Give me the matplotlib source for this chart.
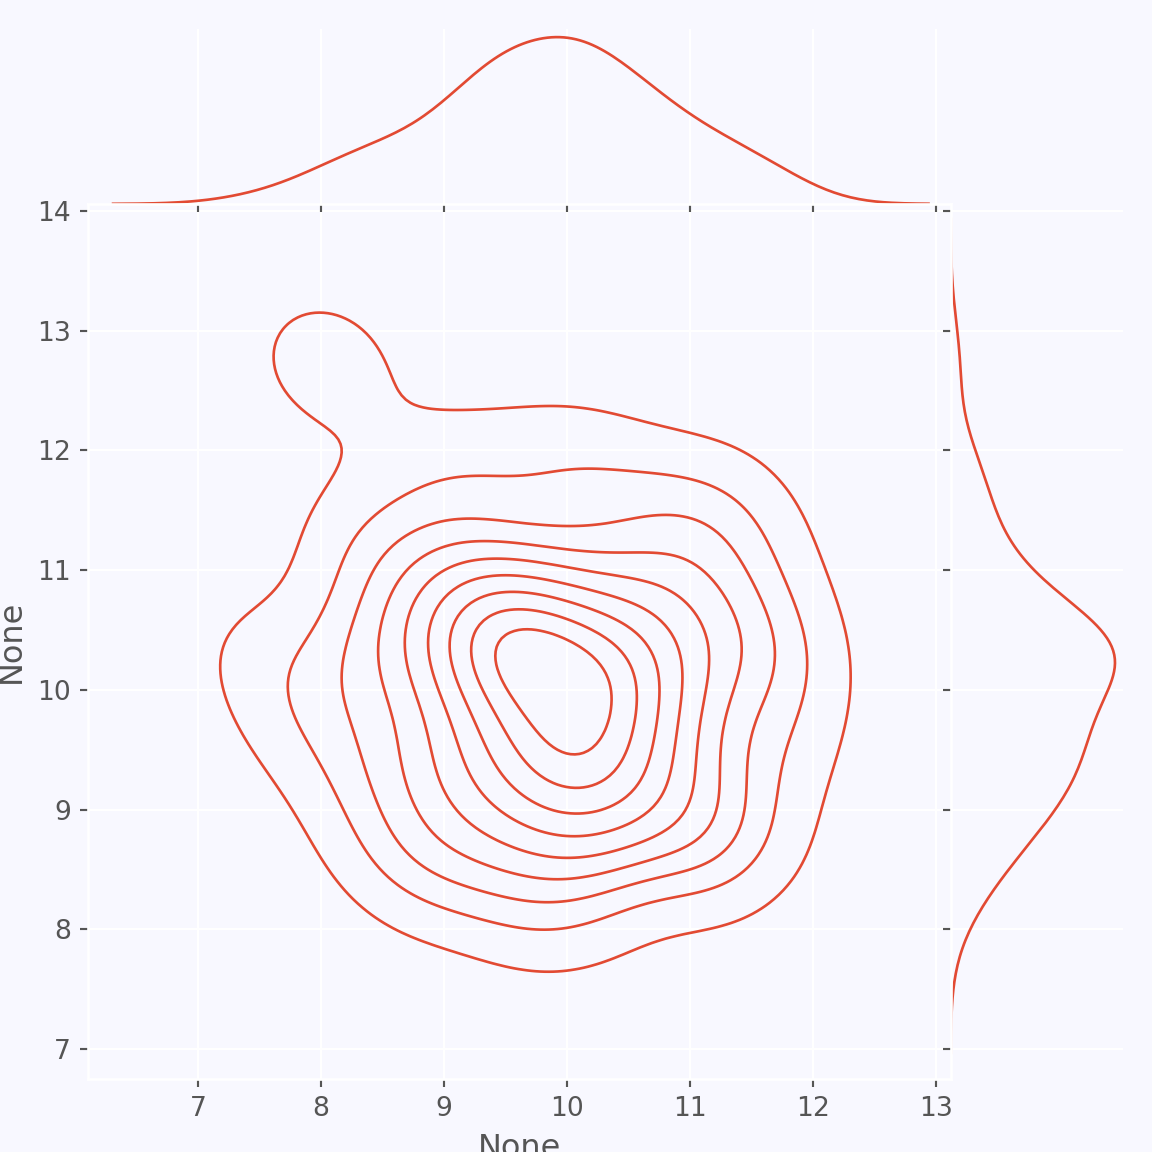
import matplotlib
matplotlib.use("Agg")
import matplotlib.pyplot as plt
import numpy as np
import seaborn as sns

# hand-placed sample points (estimated from the density picture),
# one line per narrow x band
x_vals = [7.45,
          7.8,
          7.95, 8.15, 8.05,
          8.3, 8.25, 8.3,
          8.5, 8.55, 8.45, 8.6,
          8.9, 8.8, 8.7, 8.8, 8.75,
          9.0, 9.05, 9.35, 9.0, 9.6,
          9.25, 9.2, 9.3, 9.25, 9.2, 9.3, 9.25, 9.35,
          9.5, 9.45, 9.55, 9.5, 9.3, 9.4, 9.5, 9.5, 9.45, 9.4,
          9.7, 10.1, 9.8, 9.7, 9.75, 10.05, 10.3, 9.75, 9.8, 9.7, 9.75, 9.9,
          10.0, 10.05, 9.95, 10.0, 10.05, 9.9, 10.0, 10.05, 9.95, 10.0, 10.05,
          10.2, 10.2, 10.3, 10.25, 10.2, 10.3, 10.25, 10.3,
          10.5, 10.55, 10.45, 10.5, 10.55, 10.5, 10.5, 10.6, 10.45,
          10.75, 10.8, 10.7, 10.75, 10.8, 10.8,
          11.0, 11.05, 10.95, 11.0, 11.05,
          11.25, 11.2, 11.3, 11.35,
          11.5, 11.45, 11.55,
          11.7, 11.75,
          11.8]
y_vals = [10.3,
          9.7,
          12.8, 12.65, 10.0,
          11.3, 9.2, 10.4,
          8.7, 10.2, 10.9, 9.4,
          11.8, 8.5, 10.3, 11.2, 9.6,
          8.5, 9.2, 10.35, 10.7, 10.45,
          9.25, 9.0, 9.7, 10.3, 10.55, 10.8, 11.1, 11.85,
          8.4, 8.95, 9.4, 9.7, 10.2, 10.25, 10.4, 10.55, 10.3, 9.85,
          8.1, 9.35, 9.2, 9.55, 9.85, 9.55, 9.85, 10.3, 10.4, 10.5, 10.75, 11.9,
          8.9, 9.1, 9.3, 9.5, 9.75, 8.75, 10.1, 10.25, 10.4, 10.6, 11.2,
          8.2, 8.7, 9.15, 9.5, 9.9, 10.15, 10.35, 11.85,
          9.25, 9.0, 9.6, 10.0, 10.3, 10.9, 10.55, 10.2, 9.8,
          9.0, 9.35, 9.9, 10.4, 10.95, 11.6,
          8.5, 9.0, 10.2, 10.8, 11.3,
          8.7, 9.6, 10.5, 11.6,
          8.9, 10.3, 11.1,
          9.5, 10.5,
          10.0]

x = np.array(x_vals)
y = np.array(y_vals)

bg = "#F8F8FF"
grey = "#555555"
red = "#E24A33"

plt.rcParams.update({
    "figure.facecolor": bg,
    "axes.facecolor": bg,
    "savefig.facecolor": bg,
    "axes.edgecolor": "white",
    "axes.linewidth": 1.0,
    "axes.grid": True,
    "grid.color": "white",
    "grid.linewidth": 0.8,
    "axes.labelcolor": grey,
    "axes.labelsize": 12,
    "text.color": grey,
    "xtick.color": grey,
    "ytick.color": grey,
    "xtick.labelsize": 10,
    "ytick.labelsize": 10,
    "xtick.direction": "out",
    "ytick.direction": "out",
    "xtick.major.size": 3,
    "ytick.major.size": 3,
    "xtick.major.width": 0.8,
    "ytick.major.width": 0.8,
    "lines.linewidth": 1.0,
    "font.family": ["DejaVu Sans"],
})

g = sns.jointplot(x=x, y=y, kind="kde", color=red, height=6, ratio=5, space=0)
g.set_axis_labels("None", "None")
g.ax_joint.set_xlim(6.11, 13.12)
g.ax_joint.set_ylim(6.75, 14.06)
g.ax_joint.set_xticks([7, 8, 9, 10, 11, 12, 13])
g.ax_joint.set_yticks([7, 8, 9, 10, 11, 12, 13, 14])

g.figure.savefig("out.png", dpi=192)
